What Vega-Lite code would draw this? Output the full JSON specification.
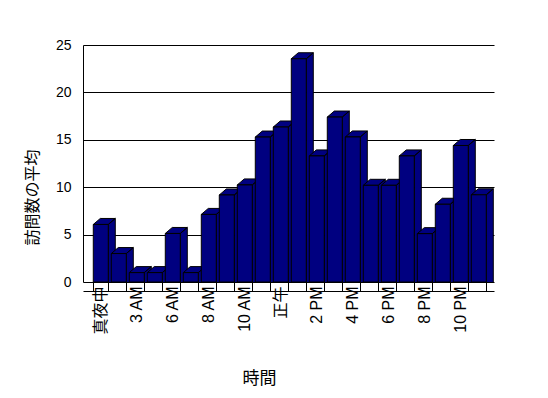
{
  "$schema": "https://vega.github.io/schema/vega-lite/v6.json",
  "width": 411,
  "height": 237,
  "autosize": "none",
  "padding": {"left": 83, "top": 45, "right": 54, "bottom": 116},
  "background": "white",
  "config": {"view": {"stroke": null}, "font": "Liberation Sans, Noto Sans CJK JP"},
  "data": {"values": [
    {"hour": "真夜中", "visits": 6.07},
    {"hour": "1 AM", "visits": 3.0},
    {"hour": "3 AM", "visits": 0.99},
    {"hour": "4 AM", "visits": 0.99},
    {"hour": "6 AM", "visits": 5.12},
    {"hour": "7 AM", "visits": 0.99},
    {"hour": "8 AM", "visits": 7.13},
    {"hour": "9 AM", "visits": 9.18},
    {"hour": "10 AM", "visits": 10.24},
    {"hour": "11 AM", "visits": 15.29},
    {"hour": "正午", "visits": 16.35},
    {"hour": "1 PM", "visits": 23.55},
    {"hour": "2 PM", "visits": 13.3},
    {"hour": "3 PM", "visits": 17.4},
    {"hour": "4 PM", "visits": 15.3},
    {"hour": "5 PM", "visits": 10.2},
    {"hour": "6 PM", "visits": 10.2},
    {"hour": "7 PM", "visits": 13.3},
    {"hour": "8 PM", "visits": 5.1},
    {"hour": "9 PM", "visits": 8.2},
    {"hour": "10 PM", "visits": 14.4},
    {"hour": "11 PM", "visits": 9.2}
  ]},
  "encoding": {
    "x": {
      "field": "hour", "type": "nominal", "sort": null,
      "scale": {"paddingInner": 0.1667, "paddingOuter": 0.5, "align": 0.572},
      "axis": {
        "title": "時間",
        "labelAngle": -90,
        "labelExpr": "indexof(['真夜中','3 AM','6 AM','8 AM','10 AM','正午','2 PM','4 PM','6 PM','8 PM','10 PM'], datum.value) >= 0 ? datum.value : ''",
        "tickBand": "extent",
        "tickSize": -9,
        "offset": 9,
        "domainColor": "black",
        "tickColor": "black",
        "labelFontSize": 16,
        "labelColor": "black",
        "labelPadding": 4,
        "titleFontSize": 17,
        "titleFontWeight": "normal",
        "titleColor": "black",
        "titleX": 176,
        "titleY": 79
      }
    },
    "y": {
      "field": "visits", "type": "quantitative",
      "scale": {"domain": [0, 25]},
      "axis": {
        "title": "訪問数の平均",
        "values": [0, 5, 10, 15, 20, 25],
        "grid": true,
        "gridColor": "black",
        "gridOpacity": 1,
        "ticks": false,
        "domainColor": "black",
        "labelPadding": 12,
        "labelFontSize": 14,
        "labelColor": "black",
        "titleFontSize": 16,
        "titleFontWeight": "normal",
        "titleColor": "black",
        "titleX": -51,
        "titleY": 152,
        "titleBaseline": "middle"
      }
    }
  },
  "layer": [
    {"mark": {"type": "point", "filled": true, "fill": "#000080", "stroke": "black", "strokeWidth": 1, "opacity": 1, "fillOpacity": 1, "strokeOpacity": 1, "size": 4, "clip": true,
      "shape": "M -7.5 0 L -0.5 -6 L 14.5 -6 L 7.5 0 Z M 7.5 0 L 14.5 -6 L 14.5 400 L 7.5 406 Z"}},
    {"mark": {"type": "bar", "color": "#000080", "stroke": "black", "strokeWidth": 1}}
  ]
}
